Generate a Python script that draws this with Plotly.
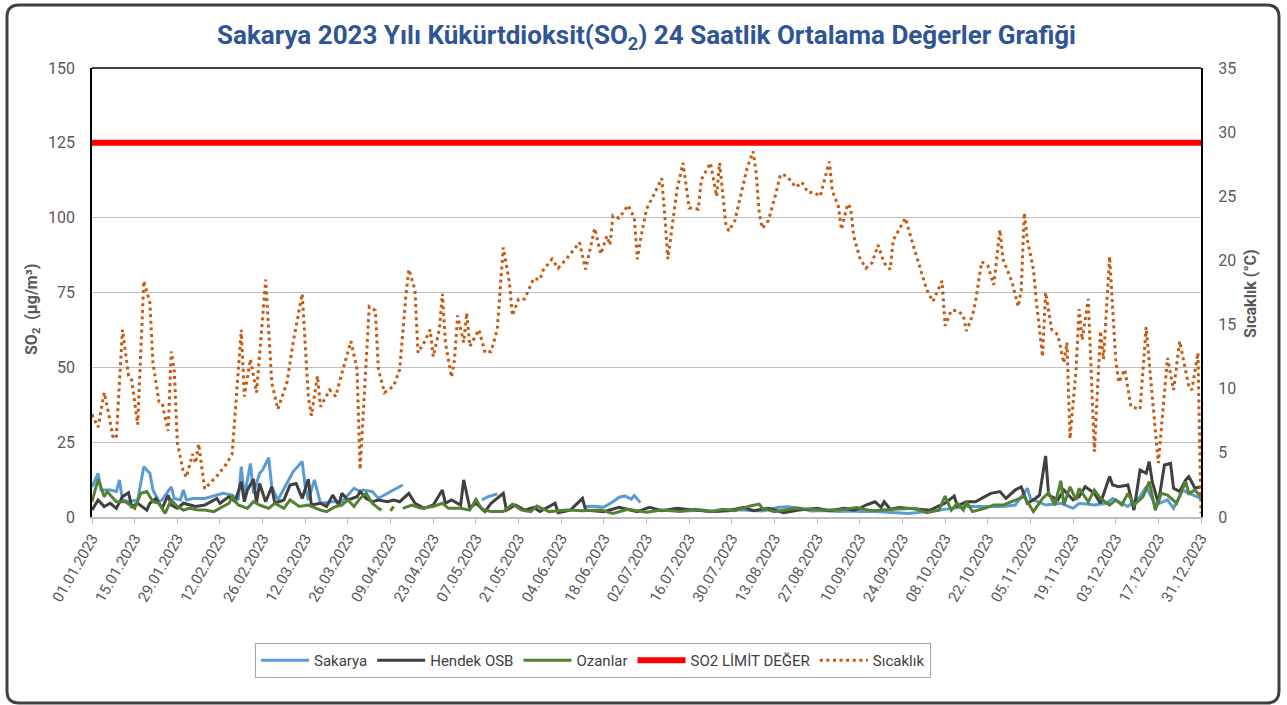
import pandas as pd
import plotly.graph_objects as go

START = "2023-01-01"

# ---------------- data (day index from 01.01.2023, value) ----------------
SAKARYA_DAYS = [0, 2, 3, 6, 8, 9, 10, 12, 15, 17, 19, 20, 22, 23, 26, 27, 29, 30, 31, 33, 37, 41, 43, 46, 48,
                49, 50, 52, 53, 55, 56, 58, 59, 61, 65, 66, 69, 70, 71, 73, 75, 79, 82, 86, 88, 89, 92, 94, 98,
                102, 103, 128, 130, 133, 134, 162, 165, 168, 171, 173, 175, 177, 178, 180, 184, 190, 195, 200,
                205, 210, 215, 220, 225, 228, 232, 236, 240, 245, 250, 252, 257, 263, 268, 278, 287, 294, 299,
                303, 307, 308, 313, 318, 322, 324, 329, 333, 335, 340, 344, 346, 349, 353, 355, 358, 360, 364]
SAKARYA = [10.1, 14.6, 9.0, 9.0, 8.5, 12.4, 5.7, 5.1, 5.7, 16.8, 14.6, 9.0, 5.1, 5.7, 10.1, 6.2, 5.7, 9.0, 5.7,
           6.2, 6.2, 7.3, 7.9, 7.3, 5.7, 16.8, 6.8, 17.9, 7.9, 14.6, 15.7, 19.8, 10.1, 5.7, 12.9, 15.1, 18.5,
           10.1, 5.7, 12.4, 4.6, 5.1, 5.1, 9.6, 8.5, 9.0, 8.5, 6.2, 8.5, 10.7, None, 5.7, 6.8, 7.7, None, 3.5,
           3.6, 3.3, 5.1, 6.6, 7.0, 6.0, 7.2, 4.8, None, 2.5, 2.0, 2.3, 1.8, 2.5, 2.2, 2.0, 3.2, 3.4, 3.0, 2.0,
           2.2, 1.8, 2.0, 1.8, 1.8, 1.4, 1.2, 2.3, 3.5, 3.5, 3.5, 4.0, 9.6, 6.2, 4.0, 4.6, 2.9, 4.6, 4.0, 4.6,
           6.2, 3.5, 6.8, 10.1, 4.0, 5.7, 2.9, 9.0, 7.9, 6.2]

HENDEK_DAYS = [0, 2, 4, 6, 8, 10, 12, 13, 15, 18, 19, 21, 23, 25, 26, 28, 30, 32, 34, 37, 39, 41, 42, 45, 47,
               49, 50, 51, 53, 54, 55, 57, 59, 60, 63, 65, 67, 69, 71, 72, 75, 77, 79, 81, 82, 84, 87, 88, 90,
               92, 94, 97, 99, 101, 104, 106, 109, 112, 115, 116, 118, 121, 122, 124, 126, 129, 131, 135, 136,
               139, 142, 145, 147, 152, 153, 157, 161, 162, 168, 173, 179, 183, 187, 192, 198, 203, 209, 214,
               217, 222, 227, 232, 238, 242, 247, 250, 252, 254, 257, 259, 260, 262, 265, 268, 272, 275, 278,
               280, 283, 284, 287, 290, 292, 295, 298, 300, 303, 305, 307, 309, 311, 313, 314, 317, 319, 322,
               324, 326, 329, 331, 334, 335, 337, 340, 342, 344, 346, 347, 348, 350, 352, 354, 355, 357, 359,
               360, 362, 364]
HENDEK = [2.3, 5.7, 3.5, 4.6, 2.9, 6.8, 8.1, 3.5, 4.6, 2.3, 4.6, 6.2, 2.9, 7.3, 4.0, 2.9, 4.6, 4.0, 3.5, 4.0,
          5.1, 6.2, 4.6, 6.8, 5.1, 11.8, 5.1, 9.0, 12.6, 4.6, 11.2, 5.1, 10.1, 4.6, 5.7, 10.7, 11.2, 6.2, 12.6,
          4.0, 4.6, 3.5, 7.3, 4.0, 7.9, 5.7, 6.8, 8.5, 6.2, 5.1, 5.7, 5.1, 5.7, 5.1, 7.9, 4.6, 2.9, 4.0, 9.0,
          4.6, 5.7, 4.0, 12.4, 3.0, 4.6, 1.8, 4.6, 7.9, 2.3, 4.0, 2.3, 3.2, 1.8, 4.6, 1.4, 2.3, 6.2, 2.3, 1.8,
          3.2, 1.8, 3.2, 2.1, 2.9, 2.3, 1.8, 2.1, 3.2, 2.1, 2.9, 1.4, 2.3, 2.9, 2.1, 2.9, 2.3, 2.9, 4.0, 5.1,
          3.2, 5.1, 2.6, 3.2, 2.9, 2.6, 2.3, 3.7, 4.6, 7.0, 3.7, 5.1, 5.1, 6.2, 7.9, 8.5, 6.2, 9.0, 10.1, 4.6,
          5.7, 7.3, 20.4, 7.3, 5.7, 9.0, 5.7, 6.8, 10.1, 7.9, 4.6, 13.5, 10.7, 10.1, 10.7, 2.3, 15.7, 14.6,
          18.5, 11.8, 4.6, 17.4, 17.9, 9.6, 8.5, 12.4, 13.5, 9.6, 10.1]

OZANLAR_DAYS = [0, 2, 4, 5, 7, 8, 11, 14, 16, 18, 20, 22, 24, 26, 28, 30, 32, 35, 37, 40, 43, 45, 46, 48, 51,
                53, 55, 58, 60, 63, 65, 68, 71, 75, 77, 80, 82, 84, 86, 88, 90, 92, 94, 95, 96, 98, 99, 100, 102,
                105, 108, 112, 115, 117, 121, 124, 126, 128, 131, 135, 138, 141, 144, 146, 150, 156, 161, 167,
                171, 176, 182, 187, 193, 198, 203, 207, 211, 216, 219, 220, 224, 228, 231, 235, 240, 245, 251,
                255, 256, 263, 270, 274, 278, 280, 282, 284, 286, 287, 289, 293, 296, 299, 302, 306, 309, 312,
                314, 316, 318, 319, 321, 323, 324, 327, 329, 331, 334, 336, 338, 340, 342, 345, 347, 349, 351,
                353, 356, 357, 359, 360, 362, 364]
OZANLAR = [5.1, 12.6, 6.8, 8.5, 6.2, 5.1, 5.1, 2.9, 7.9, 8.5, 5.1, 4.6, 1.2, 5.7, 3.5, 2.3, 2.9, 2.3, 2.3, 1.8,
           3.5, 4.6, 6.8, 4.0, 2.9, 5.1, 4.0, 2.9, 4.6, 2.9, 5.7, 3.5, 4.0, 2.3, 1.8, 3.5, 4.0, 5.7, 3.5, 6.2,
           7.9, 4.6, 2.9, 2.3, None, 2.0, 3.5, None, 2.9, 4.0, 2.9, 3.5, 4.6, 2.9, 2.9, 2.3, 5.9, 2.6, 1.8, 1.8,
           4.3, 2.3, 1.8, 3.7, 1.8, 2.3, 2.1, 2.3, 1.2, 2.6, 1.6, 2.3, 1.8, 2.6, 1.8, 2.6, 2.1, 3.7, 4.3, 2.9,
           1.8, 2.3, 2.9, 2.6, 2.3, 2.3, 3.2, 2.3, 2.1, 2.6, 2.9, 1.4, 2.3, 7.0, 2.3, 4.6, 2.3, 5.1, 1.8, 2.9,
           4.0, 4.0, 5.1, 6.8, 1.8, 6.2, 8.1, 4.0, 12.1, 4.0, 10.1, 5.7, 9.6, 5.1, 9.0, 6.2, 4.0, 5.7, 4.0, 7.9,
           4.0, 6.8, 11.8, 2.3, 7.9, 7.3, 4.6, 6.8, 11.8, 7.9, 9.0, 6.8]

SO2_LIMIT = 125
LIMIT_DAYS = [0, 364]

TEMP_DAYS = [0, 2, 4, 5, 7, 8, 10, 12, 13, 15, 17, 19, 20, 22, 23, 25, 26, 27, 28, 30, 31, 33, 34, 35, 37, 41,
             44, 46, 49, 50, 52, 54, 57, 58, 59, 61, 64, 66, 69, 71, 72, 74, 75, 78, 80, 82, 85, 87, 88, 91, 93,
             94, 96, 99, 101, 103, 104, 106, 107, 109, 111, 112, 114, 115, 116, 118, 119, 120, 122, 123, 124,
             127, 129, 131, 133, 135, 137, 138, 140, 142, 145, 147, 148, 151, 153, 156, 160, 162, 165, 167, 169,
             170, 171, 173, 176, 178, 179, 180, 182, 185, 187, 188, 189, 190, 192, 194, 196, 199, 200, 203, 205,
             206, 208, 209, 211, 215, 217, 218, 219, 220, 222, 224, 226, 228, 231, 233, 235, 237, 239, 240, 242,
             243, 245, 246, 248, 249, 250, 252, 254, 256, 258, 260, 262, 263, 267, 269, 271, 274, 276, 279, 280,
             282, 284, 286, 287, 289, 290, 292, 294, 296, 298, 299, 302, 304, 305, 306, 307, 309, 310, 312, 313,
             315, 317, 319, 320, 321, 323, 324, 325, 327, 329, 331, 332, 334, 336, 337, 339, 341, 344, 346, 348,
             350, 353, 355, 357, 360, 361, 362, 363, 364]
TEMP = [8.0, 7.0, 9.7, 8.6, 6.1, 6.3, 14.6, 11.0, 10.7, 7.2, 18.4, 16.7, 12.0, 9.0, 8.9, 6.7, 12.9, 11.5, 5.8,
        3.5, 3.1, 4.9, 4.2, 5.7, 2.2, 3.2, 4.1, 4.9, 14.6, 9.4, 12.3, 9.7, 18.5, 14.6, 10.5, 8.4, 10.5, 13.6,
        17.4, 9.4, 7.9, 11.0, 8.6, 9.9, 9.4, 11.2, 13.7, 11.5, 3.7, 16.4, 16.1, 11.5, 9.7, 10.2, 11.5, 17.2,
        19.3, 17.7, 12.8, 13.6, 14.6, 12.5, 14.6, 17.4, 13.6, 10.9, 12.3, 15.7, 13.6, 15.9, 13.3, 14.6, 12.8,
        12.9, 14.6, 21.0, 18.3, 15.7, 17.0, 17.0, 18.6, 18.5, 19.2, 20.1, 19.4, 20.2, 21.4, 19.3, 22.5, 20.5,
        21.9, 21.2, 23.5, 23.3, 24.3, 23.3, 20.1, 21.6, 24.0, 25.4, 26.4, 23.5, 20.1, 21.9, 25.5, 27.6, 24.1,
        24.0, 26.3, 27.6, 25.0, 27.6, 22.9, 22.3, 23.1, 27.2, 28.5, 26.8, 23.7, 22.5, 23.1, 24.8, 26.7, 26.6,
        25.7, 26.1, 25.3, 25.3, 25.0, 25.9, 27.7, 25.4, 24.2, 22.4, 24.4, 24.1, 21.9, 20.2, 19.4, 19.8, 21.2,
        19.8, 19.3, 21.6, 23.3, 21.6, 20.1, 17.7, 16.8, 18.4, 14.9, 16.1, 16.1, 15.7, 14.5, 15.7, 16.8, 19.9,
        19.6, 18.1, 22.4, 20.1, 18.3, 16.4, 17.7, 23.7, 21.6, 19.3, 16.7, 12.5, 17.5, 14.6, 14.2, 12.0, 13.6,
        6.1, 11.5, 16.2, 13.8, 17.0, 5.1, 14.5, 12.3, 20.3, 12.3, 10.5, 11.5, 8.6, 8.4, 14.8, 9.4, 4.2, 12.4,
        9.9, 13.7, 10.2, 9.9, 11.5, 12.8, 0.3]

TICK_STEP_DAYS = 14

# ---------------- helpers ----------------
base = pd.Timestamp(START)


def to_dates(days):
    return [base + pd.Timedelta(days=int(d)) for d in days]


BLUE = "#5B9BD5"
BLACK = "#404040"
GREEN = "#548235"
RED = "#FF0000"
ORANGE = "#C55A11"
GRAY_TXT = "#595959"
FONT = "Roboto, Liberation Sans, sans-serif"

fig = go.Figure()
fig.add_trace(go.Scatter(x=to_dates(SAKARYA_DAYS), y=SAKARYA, name="Sakarya", mode="lines",
                         line=dict(color=BLUE, width=3)))
fig.add_trace(go.Scatter(x=to_dates(HENDEK_DAYS), y=HENDEK, name="Hendek OSB", mode="lines",
                         line=dict(color=BLACK, width=3)))
fig.add_trace(go.Scatter(x=to_dates(OZANLAR_DAYS), y=OZANLAR, name="Ozanlar", mode="lines",
                         line=dict(color=GREEN, width=3)))
fig.add_trace(go.Scatter(x=to_dates(LIMIT_DAYS), y=[SO2_LIMIT] * len(LIMIT_DAYS), name="SO2 LİMİT DEĞER",
                         mode="lines", line=dict(color=RED, width=6)))
fig.add_trace(go.Scatter(x=to_dates(TEMP_DAYS), y=TEMP, name="Sıcaklık", mode="lines", yaxis="y2",
                         line=dict(color=ORANGE, width=3, dash="3px,3.6px")))

W, H = 1287, 705
L, R, T, B = 92, 86, 68, 188
pw, ph = W - L - R, H - T - B


def px(xp):
    return (xp - L) / pw


def py(yp):
    return (H - B - yp) / ph


# rounded outer border
x0, x1, y0, y1 = px(7), px(1279), py(703), py(5)
rx, ry = 12 / pw, 12 / ph
path = (f"M {x0+rx},{y1} L {x1-rx},{y1} Q {x1},{y1} {x1},{y1-ry} L {x1},{y0+ry} Q {x1},{y0} {x1-rx},{y0} "
        f"L {x0+rx},{y0} Q {x0},{y0} {x0},{y0+ry} L {x0},{y1-ry} Q {x0},{y1} {x0+rx},{y1} Z")

fig.update_layout(
    width=W, height=H,
    margin=dict(l=L, r=R, t=T, b=B),
    paper_bgcolor="white", plot_bgcolor="white",
    font=dict(family=FONT, color=GRAY_TXT),
    title=dict(text="Sakarya 2023 Yılı Kükürtdioksit(SO<sub>2</sub>) 24 Saatlik Ortalama Değerler Grafiği",
               x=0.5, xref="paper", xanchor="center", y=1 - 35 / H, yanchor="middle",
               font=dict(family=FONT, size=26, color="#2F5597", weight="bold")),
    xaxis=dict(type="date", range=[base, base + pd.Timedelta(days=364)],
               tick0=base, dtick=TICK_STEP_DAYS * 86400000, tickformat="%d.%m.%Y", tickangle=-60,
               ticks="outside", ticklen=5, tickcolor="#BFBFBF", showgrid=False,
               showline=True, linecolor="#BFBFBF", linewidth=1.5,
               tickfont=dict(family=FONT, size=15, color=GRAY_TXT)),
    yaxis=dict(range=[0, 150], dtick=25, showgrid=True, gridcolor="#BFBFBF", gridwidth=1.3,
               zeroline=False, showline=True, linecolor="black", linewidth=1.5,
               ticks="", ticklabelstandoff=12,
               tickfont=dict(family=FONT, size=16, color=GRAY_TXT)),
    yaxis2=dict(range=[0, 35], dtick=5, overlaying="y", side="right", showgrid=False, zeroline=False,
                showline=True, linecolor="black", linewidth=2, ticks="", ticklabelstandoff=12,
                tickfont=dict(family=FONT, size=16, color=GRAY_TXT)),
    legend=dict(orientation="h", x=px(593), xanchor="center", y=py(643), yanchor="top",
                bordercolor="#A6A6A6", borderwidth=1, bgcolor="white",
                font=dict(family=FONT, size=15, color="#404040"), itemwidth=48),
    showlegend=True,
    shapes=[
        dict(type="line", xref="paper", yref="paper", x0=0, x1=1, y0=1, y1=1,
             line=dict(color="black", width=1.5)),
        dict(type="path", xref="paper", yref="paper", path=path, line=dict(color="#404040", width=3)),
    ],
    annotations=[
        dict(text="SO<sub>2</sub>  (µg/m³)", xref="paper", yref="paper", x=px(32), y=py(310),
             xanchor="center", yanchor="middle", showarrow=False, textangle=-90,
             font=dict(family=FONT, size=16, color=GRAY_TXT, weight="bold")),
        dict(text="Sıcaklık (°C)", xref="paper", yref="paper", x=px(1250), y=py(294),
             xanchor="center", yanchor="middle", showarrow=False, textangle=-90,
             font=dict(family=FONT, size=16, color=GRAY_TXT, weight="bold")),
    ],
)

fig.write_html("out.html", config={"displayModeBar": False},
               post_script="document.body.style.margin='0';document.body.style.overflow='hidden';")
